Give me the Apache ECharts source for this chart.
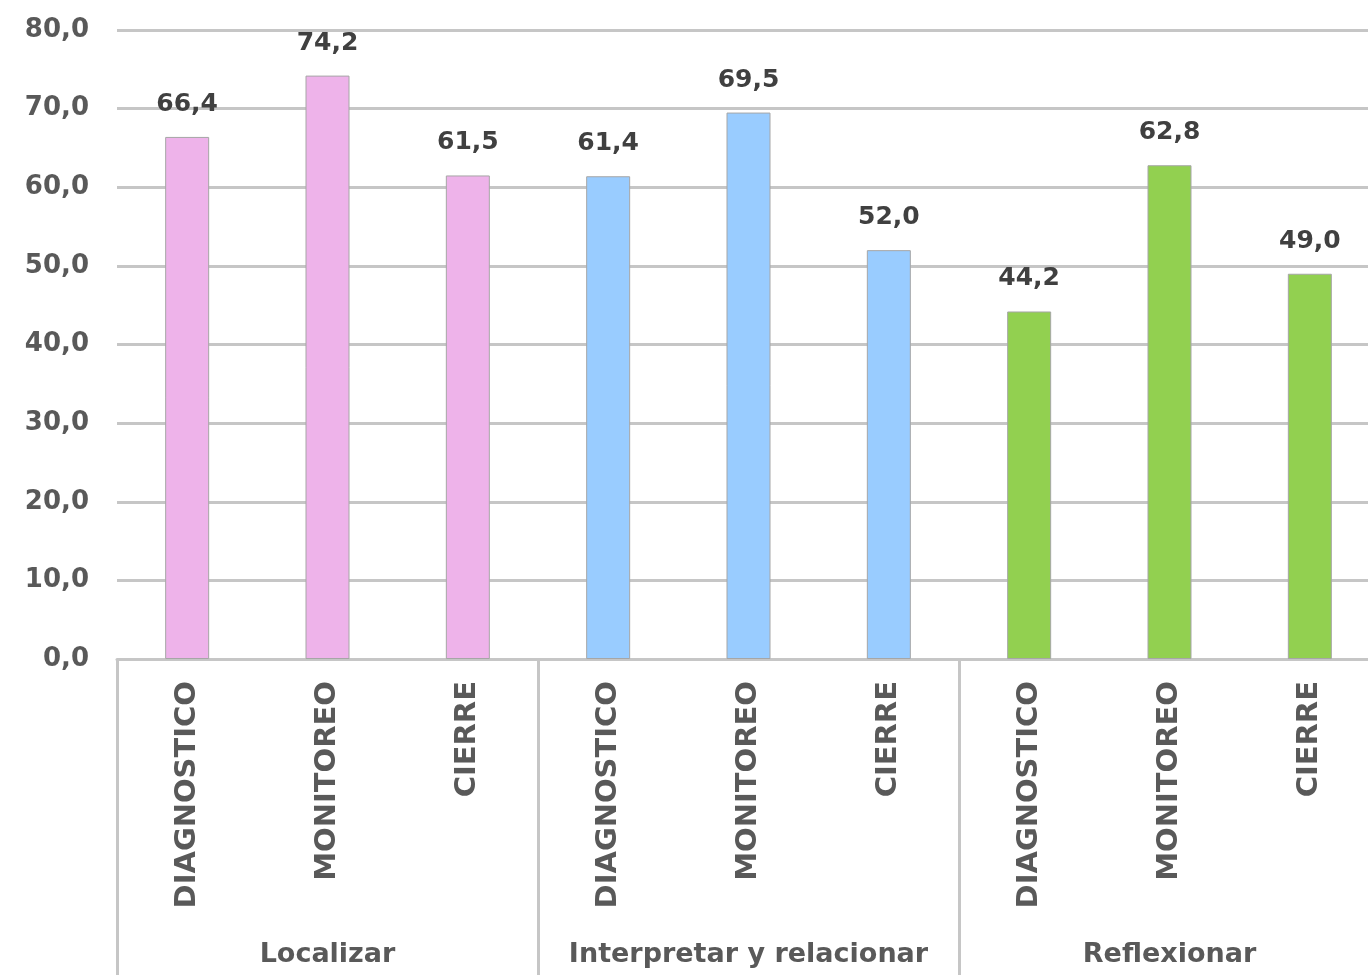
<!DOCTYPE html>
<html><head><meta charset="utf-8">
<script src="https://cdn.jsdelivr.net/npm/echarts@6/dist/echarts.min.js"></script>
<style>html,body{margin:0;padding:0;background:#fff}#c{width:1368px;height:975px}</style>
</head><body><div id="c"></div>
<script>
const categories = ['DIAGNOSTICO','MONITOREO','CIERRE','DIAGNOSTICO','MONITOREO','CIERRE','DIAGNOSTICO','MONITOREO','CIERRE'];
const groups = ['Localizar','Interpretar y relacionar','Reflexionar'];
const values = [66.4, 74.2, 61.5, 61.4, 69.5, 52.0, 44.2, 62.8, 49.0];
const groupColors = ['#EEB3EA', '#99CCFF', '#92D050'];
const yTicks = [0, 10, 20, 30, 40, 50, 60, 70, 80];

const FONT = 'DejaVu Sans';
const fmt = v => Number(v).toFixed(1).replace('.', ',');

const chart = echarts.init(document.getElementById('c'));
chart.setOption({
  animation: false,
  textStyle: { fontFamily: FONT },
  grid: { left: 117, right: -12, top: 30, bottom: 316, containLabel: false, outerBoundsMode: 'none' },
  xAxis: [
    {
      type: 'category', data: categories, position: 'bottom',
      axisLine: { show: true, lineStyle: { color: '#c6c6c6', width: 3 } },
      axisTick: { show: false },
      axisLabel: { rotate: 90, margin: 22, fontSize: 29, fontWeight: 'bold', color: '#595959', fontFamily: FONT, interval: 0 }
    },
    {
      type: 'category', data: groups, position: 'bottom', offset: 0,
      axisLine: { show: false },
      axisTick: { show: true, length: 320, interval: 0, alignWithLabel: false, lineStyle: { color: '#c6c6c6', width: 3 } },
      axisLabel: { margin: 282, fontSize: 27, fontWeight: 'bold', color: '#595959', fontFamily: FONT, interval: 0 }
    }
  ],
  yAxis: {
    type: 'value', min: yTicks[0], max: yTicks[yTicks.length - 1], interval: 10,
    axisLine: { show: false }, axisTick: { show: false },
    splitLine: { show: true, lineStyle: { color: '#c6c6c6', width: 3 } },
    axisLabel: { formatter: v => fmt(v), fontSize: 26, fontWeight: 'bold', color: '#595959', margin: 28, fontFamily: FONT }
  },
  series: [{
    type: 'bar', xAxisIndex: 0, barWidth: 44,
    data: values.map((v, i) => ({ value: v, itemStyle: { color: groupColors[Math.floor(i / 3)] } })),
    itemStyle: { borderColor: '#a6a6a6', borderWidth: 1 },
    label: { show: true, position: 'top', distance: 20, formatter: p => fmt(p.value), fontSize: 25, fontWeight: 'bold', color: '#404040', fontFamily: FONT }
  }]
});
</script></body></html>
